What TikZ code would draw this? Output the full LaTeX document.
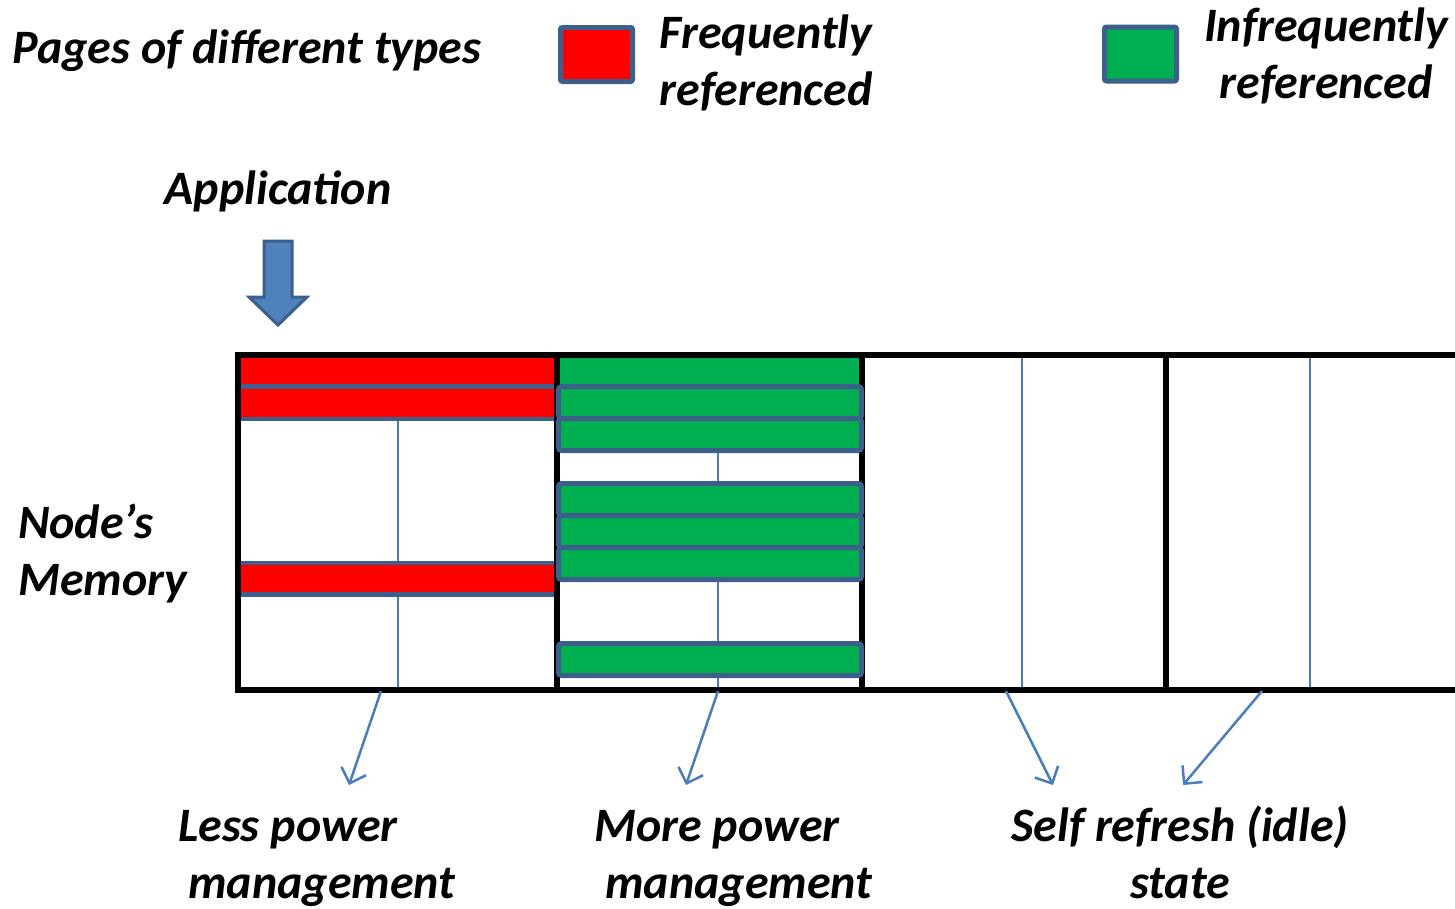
\documentclass[tikz,border=0pt]{standalone}
\usepackage{fontspec}
\setmainfont{Carlito}
\usepackage{xcolor}
\usetikzlibrary{arrows.meta}
\definecolor{pgred}{HTML}{FF0000}
\definecolor{pggreen}{HTML}{00B050}
\definecolor{pgedge}{HTML}{3C5F8C}
\definecolor{pgline}{HTML}{4A7EBB}
\definecolor{pgfill}{HTML}{4F81BD}
\tikzset{
	lbl/.style={font=\fontsize{48}{57}\selectfont\bfseries\itshape, inner sep=0pt},
	frame/.style={line width=6.5pt, black, line cap=rect},
	divider/.style={line width=2pt, pgline},
	hotpage/.style={fill=pgred, draw=pgedge, line width=4.5pt},
	coldpage/.style={fill=pggreen, draw=pgedge, line width=5pt, rounded corners=3pt},
	key/.style={draw=pgedge, line width=5pt, rounded corners=2pt, minimum width=72pt, minimum height=54pt, anchor=north west},
	ptr/.style={line width=2.5pt, pgline, -{Straight Barb[length=13pt, width=26pt]}}
}

\begin{document}
\begin{tikzpicture}[x=1pt, y=-1pt]
	\useasboundingbox (0,0) rectangle (1455,908);

	% legend
	\node[lbl, anchor=base west](title) at (12,63){Pages of different types};
	\node[key, fill=pgred](hotkey) at (558,25){};
	\node[key, fill=pggreen](coldkey) at (1102,24.5){};
	\node[lbl, align=center, anchor=base](hottxt) at (766,105){Frequently\\referenced};
	\node[lbl, align=center, anchor=base](coldtxt) at (1326,98){Infrequently\\referenced};

	% application arrow
	\node[lbl, anchor=base](app) at (278,204){Application};
	\draw[fill=pgfill, draw=pgedge, line width=3pt, line join=miter]
		(264,241) -- (292,241) -- (292,297) -- (307,297) -- (278,325) -- (249,297) -- (264,297) -- cycle;

	% memory
	\node[lbl, align=left, anchor=base west](mem) at (18,595){Node’s\\Memory};

	\draw[divider] (398,419) -- (398,690);
	\foreach \x in {718, 1022, 1310}
		\draw[divider] (\x,355) -- (\x,690);

	\fill[pggreen] (557,355) rectangle (862,386);
	\foreach \t/\b in {355/386.5, 386.5/419, 563/594.5}
		\draw[hotpage] (238,\t) rectangle (557,\b);

	\draw[frame] (1458,355) -- (238,355) -- (238,690) -- (1458,690);
	\foreach \x in {557, 862, 1166}
		\draw[frame] (\x,355) -- (\x,690);

	\foreach \t in {386.5, 418.5, 483.5, 515.5, 547.5, 643.5}
		\draw[coldpage] (558.5,\t) rectangle (861.5,\t+32);

	% labels below
	\coordinate (s1) at (381,691);
	\coordinate (e1) at (349,785);
	\coordinate (s2) at (718,691);
	\coordinate (e2) at (686,785);
	\coordinate (s3) at (1006,691);
	\coordinate (e3) at (1053,785);
	\coordinate (s4) at (1262,691);
	\coordinate (e4) at (1183,785);
	\draw[ptr](s1) -- (e1);
	\draw[ptr](s2) -- (e2);
	\draw[ptr](s3) -- (e3);
	\draw[ptr](s4) -- (e4);

	\node[lbl, align=left, anchor=base west](less) at (178,898){Less power\\\hspace*{10pt}management};
	\node[lbl, align=left, anchor=base west](more) at (594,898){More power\\\hspace*{11pt}management};
	\node[lbl, align=center, anchor=base](idle) at (1180,898){Self refresh (idle)\\state};
\end{tikzpicture}
\end{document}
